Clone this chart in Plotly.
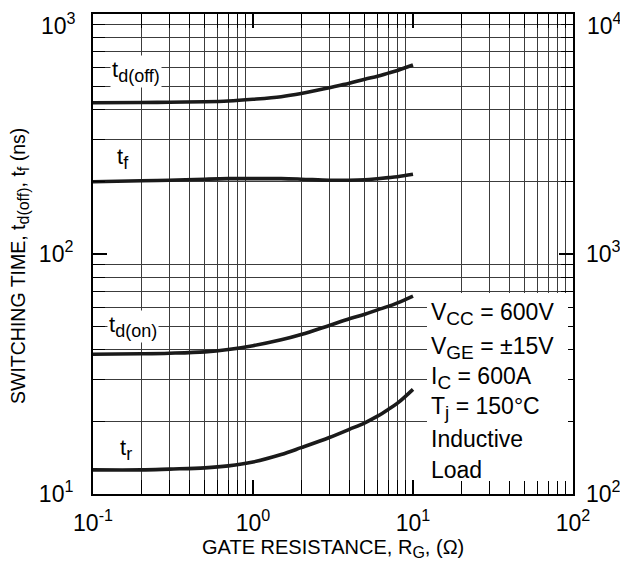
import math
import plotly.graph_objects as go

# Gate resistance (ohm)
rg = [0.1, 0.2, 0.3, 0.5, 0.7, 1, 1.5, 2, 3, 4, 5, 6, 7, 8, 10]
# Switching times (ns)
td_off = [427, 428, 429, 431, 434, 441, 452, 466, 493, 514, 535, 550, 567, 582, 613]
tf = [200, 202, 203, 205, 206, 206, 206, 205, 203, 203, 204, 206, 208, 210, 215]
td_on = [38.2, 38.4, 38.6, 39.1, 40.0, 41.5, 43.9, 46.2, 50.4, 53.7, 56.1, 58.5, 60.5, 62.6, 66.8]
tr = [12.6, 12.6, 12.7, 12.85, 13.1, 13.6, 14.6, 15.6, 17.2, 18.6, 19.8, 21.1, 22.5, 23.9, 27.3]

x_major = [0.1, 1, 10, 100]
x_major_text = ["10<sup>-1</sup>", "10<sup>0</sup>", "10<sup>1</sup>", "10<sup>2</sup>"]
y_major = [10, 100, 1000]
y_major_text = ["10<sup>1</sup>", "10<sup>2</sup>", ""]
y2_major = [100, 1000, 10000]
y2_major_text = ["10<sup>2</sup>", "10<sup>3</sup>", ""]
top_left_label = "10<sup>3</sup>"
top_right_label = "10<sup>4</sup>"

x_minor = [m * d for d in (0.1, 1, 10) for m in range(2, 10)]
y_minor = [m * d for d in (10, 100) for m in range(2, 10)]

SUB = "<sub><span style='font-size:{}px'>{}</span></sub>"
conditions = ["V" + SUB.format(19, "CC") + " = 600V", "V" + SUB.format(19, "GE") + " = \u00b115V",
              "I" + SUB.format(19, "C") + " = 600A", "T" + SUB.format(19, "j") + " = 150\u00b0C",
              "Inductive", "Load"]
curve_labels = ["t" + SUB.format(18, "d(off)"), "t" + SUB.format(18, "f"),
                "t" + SUB.format(18, "d(on)"), "t" + SUB.format(18, "r")]
y_title = "SWITCHING TIME, t" + SUB.format(16, "d(off)") + ", t" + SUB.format(16, "f") + " (ns)"
x_title = "GATE RESISTANCE, R" + SUB.format(16, "G") + ", (\u03a9)"

FONT = "Liberation Sans, Arial, Helvetica, sans-serif"
GRID = "#3c3c3c"
TICKFONT = dict(size=23, color="black", family=FONT)

fig = go.Figure()
for ys in (td_off, tf, td_on, tr):
    fig.add_trace(go.Scatter(x=rg, y=ys, mode="lines", line=dict(color="#1a1a1a", width=3.6, shape="spline"),
                             showlegend=False, hoverinfo="skip"))

# invisible trace for right axis
fig.add_trace(go.Scatter(x=[0.1], y=[100], yaxis="y2", mode="markers", marker=dict(opacity=0),
                         showlegend=False, hoverinfo="skip"))

axis_common = dict(type="log", showline=True, linecolor="black", linewidth=2, mirror="allticks",
                   ticks="inside", ticklen=14, tickwidth=2, tickcolor="black", ticklabeloverflow="allow",
                   automargin=False, showgrid=False, zeroline=False, tickfont=TICKFONT)

fig.update_layout(
    width=620, height=565,
    margin=dict(l=85, r=55, t=6, b=79, autoexpand=False),
    paper_bgcolor="white", plot_bgcolor="white",
    font=dict(family=FONT, color="black"),
    xaxis=dict(range=[-1, 2], tickmode="array", tickvals=x_major, ticktext=x_major_text, ticklabelstandoff=7,
               minor=dict(tickmode="array", tickvals=x_minor, ticks="inside", ticklen=12, tickwidth=1,
                          tickcolor="black", showgrid=True, gridcolor=GRID, gridwidth=1),
               **axis_common),
    yaxis=dict(range=[1, 3], tickmode="array", tickvals=y_major, ticktext=y_major_text, ticklabelstandoff=13,
               minor=dict(tickmode="array", tickvals=y_minor, ticks="inside", ticklen=12, tickwidth=1,
                          tickcolor="black", showgrid=True, gridcolor=GRID, gridwidth=1),
               **axis_common),
    yaxis2=dict(type="log", range=[2, 4], overlaying="y", side="right", tickmode="array",
                tickvals=y2_major, ticktext=y2_major_text, ticks="", showgrid=False, showline=False,
                zeroline=False, ticklabelstandoff=12, ticklabeloverflow="allow", automargin=False,
                tickfont=TICKFONT),
)

# top tick labels (nudged below the frame edge as in the original)
fig.add_annotation(x=0, y=1, xref="paper", yref="paper", text=top_left_label, showarrow=False,
                   xanchor="right", yanchor="top", xshift=-15, yshift=7, font=TICKFONT)
fig.add_annotation(x=1, y=1, xref="paper", yref="paper", text=top_right_label, showarrow=False,
                   xanchor="left", yanchor="top", xshift=12, yshift=7, font=TICKFONT)

# axis titles
fig.add_annotation(x=(19 - 93) / 480, y=(494 - 266) / 480, xref="paper", yref="paper", text=y_title,
                   textangle=-90, showarrow=False, xanchor="center", yanchor="middle",
                   font=dict(size=19.5, family=FONT, color="black"))
fig.add_annotation(x=(333 - 93) / 480, y=(494 - 548) / 480, xref="paper", yref="paper", text=x_title,
                   showarrow=False, xanchor="center", yanchor="middle",
                   font=dict(size=20, family=FONT, color="black"))

# curve labels
label_x = [0.127, 0.138, 0.123, 0.143]
label_y = [575, 250, 50, 15.3]
for txt, lx, ly in zip(curve_labels, label_x, label_y):
    fig.add_annotation(x=math.log10(lx), y=math.log10(ly), xref="x", yref="y", text=txt, showarrow=False,
                       xanchor="left", yanchor="middle", bgcolor="white", borderpad=1,
                       font=dict(size=22, family=FONT, color="black"))

# conditions box
fig.add_shape(type="rect", xref="paper", yref="paper", x0=(427 - 93) / 480, x1=(568 - 93) / 480,
              y0=(494 - 481) / 480, y1=(494 - 293) / 480, fillcolor="white", line=dict(width=0), layer="above")
cond_y = [314, 348, 378, 408, 439, 470]
for txt, py in zip(conditions, cond_y):
    fig.add_annotation(x=(429 - 93) / 480, y=(494 - py) / 480, xref="paper", yref="paper", text=txt,
                       showarrow=False, xanchor="left", yanchor="middle",
                       font=dict(size=23, family=FONT, color="black"))

fig.write_html("out.html")
